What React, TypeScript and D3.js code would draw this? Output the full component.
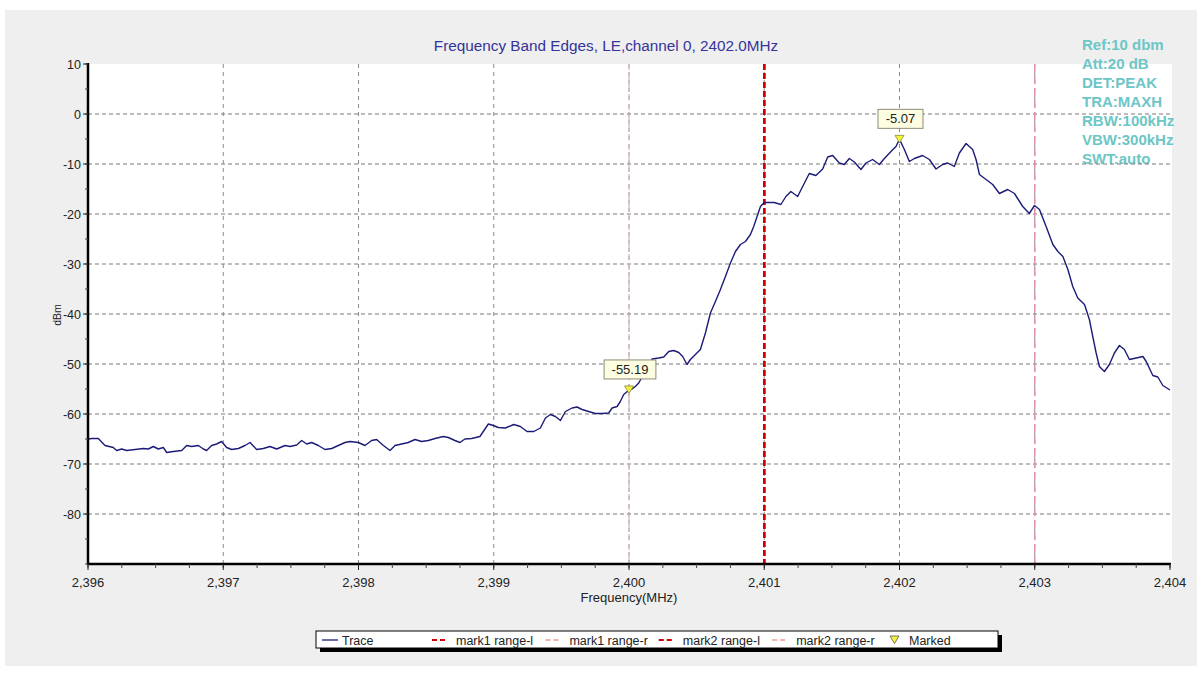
import React from 'react';
import * as d3 from 'd3';

const TITLE = 'Frequency Band Edges, LE,channel 0, 2402.0MHz';
const X_LABEL = 'Frequency(MHz)';
const Y_LABEL = 'dBm';

const FREQS = [
  2396.000, 2396.030, 2396.076, 2396.126, 2396.187, 2396.212, 2396.249, 2396.286, 2396.348, 2396.409,
  2396.446, 2396.483, 2396.520, 2396.557, 2396.582, 2396.631, 2396.693, 2396.730, 2396.766, 2396.816,
  2396.853, 2396.877, 2396.914, 2396.951, 2396.988, 2397.025, 2397.062, 2397.112, 2397.161, 2397.198,
  2397.247, 2397.296, 2397.346, 2397.395, 2397.457, 2397.494, 2397.543, 2397.580, 2397.617, 2397.654,
  2397.703, 2397.752, 2397.802, 2397.851, 2397.900, 2397.937, 2397.999, 2398.048, 2398.097, 2398.134,
  2398.184, 2398.233, 2398.270, 2398.319, 2398.368, 2398.418, 2398.467, 2398.516, 2398.566, 2398.627,
  2398.664, 2398.713, 2398.750, 2398.787, 2398.837, 2398.898, 2398.935, 2398.960, 2398.997, 2399.034,
  2399.086, 2399.148, 2399.197, 2399.246, 2399.296, 2399.345, 2399.382, 2399.419, 2399.456, 2399.493,
  2399.530, 2399.579, 2399.616, 2399.653, 2399.702, 2399.751, 2399.801, 2399.850, 2399.875, 2399.912,
  2399.936, 2399.961, 2400.000, 2400.023, 2400.047, 2400.072, 2400.096, 2400.133, 2400.170, 2400.220,
  2400.257, 2400.294, 2400.331, 2400.368, 2400.397, 2400.429, 2400.454, 2400.491, 2400.528, 2400.565,
  2400.602, 2400.639, 2400.676, 2400.713, 2400.750, 2400.787, 2400.824, 2400.861, 2400.898, 2400.922,
  2400.947, 2400.972, 2401.000, 2401.074, 2401.123, 2401.160, 2401.197, 2401.247, 2401.284, 2401.333,
  2401.382, 2401.432, 2401.469, 2401.506, 2401.555, 2401.592, 2401.629, 2401.666, 2401.715, 2401.752,
  2401.801, 2401.851, 2401.888, 2401.937, 2401.974, 2402.000, 2402.036, 2402.073, 2402.110, 2402.171,
  2402.221, 2402.270, 2402.319, 2402.356, 2402.405, 2402.443, 2402.492, 2402.541, 2402.566, 2402.591,
  2402.640, 2402.689, 2402.739, 2402.800, 2402.850, 2402.911, 2402.960, 2402.998, 2403.035, 2403.084,
  2403.134, 2403.171, 2403.208, 2403.245, 2403.281, 2403.318, 2403.368, 2403.404, 2403.429, 2403.454,
  2403.478, 2403.515, 2403.552, 2403.589, 2403.626, 2403.663, 2403.700, 2403.750, 2403.800, 2403.824,
  2403.873, 2403.910, 2403.947, 2404.000,
];

const LEVELS = [
  -65.0, -64.9, -64.9, -66.3, -66.7, -67.3, -67.0, -67.3, -67.1, -66.9,
  -67.0, -66.5, -67.0, -66.7, -67.7, -67.5, -67.3, -66.3, -66.5, -66.3,
  -67.0, -67.3, -66.3, -66.0, -65.5, -66.7, -67.1, -66.9, -66.3, -65.7,
  -67.1, -66.9, -66.5, -67.0, -66.3, -66.5, -66.2, -65.3, -66.0, -65.7,
  -66.3, -67.1, -66.9, -66.3, -65.7, -65.5, -65.7, -66.3, -65.3, -65.1,
  -66.3, -67.3, -66.3, -66.0, -65.7, -65.1, -65.5, -65.3, -64.9, -64.5,
  -64.7, -65.3, -65.7, -65.0, -64.9, -64.5, -63.0, -62.0, -62.3, -62.7,
  -62.8, -62.1, -62.5, -63.5, -63.5, -62.8, -60.8, -60.1, -60.5, -61.3,
  -59.5, -58.8, -58.6, -59.1, -59.5, -59.9, -59.9, -59.8, -58.8, -58.5,
  -57.5, -56.1, -55.19, -55.0, -54.5, -53.8, -52.6, -50.8, -49.0, -48.8,
  -48.6, -47.5, -47.3, -47.7, -48.5, -50.1, -49.1, -48.1, -47.1, -43.8,
  -39.8, -37.5, -35.1, -32.5, -29.8, -27.5, -26.1, -25.5, -24.1, -22.5,
  -20.5, -18.5, -17.7, -17.7, -18.1, -16.5, -15.5, -16.5, -14.5, -11.9,
  -12.3, -11.0, -8.6, -8.3, -9.8, -10.1, -8.9, -9.6, -11.1, -9.8,
  -9.1, -10.1, -8.9, -7.5, -6.5, -5.07, -7.1, -9.5, -8.9, -8.3,
  -9.1, -11.0, -10.1, -9.8, -10.5, -7.8, -5.9, -7.1, -9.1, -12.1,
  -13.1, -14.1, -15.9, -15.1, -15.9, -18.5, -19.9, -18.3, -19.1, -22.5,
  -26.1, -27.5, -28.5, -31.1, -34.5, -36.8, -38.1, -41.1, -44.5, -47.8,
  -50.5, -51.5, -50.1, -47.8, -46.3, -47.1, -49.1, -48.8, -48.5, -49.5,
  -52.3, -52.6, -54.3, -55.2,
];

const X_TICKS = [2396, 2397, 2398, 2399, 2400, 2401, 2402, 2403, 2404];
const Y_TICKS = [10, 0, -10, -20, -30, -40, -50, -60, -70, -80];

const MARKED_FREQS = [2400, 2402];
const MARKED_LEVELS = [-55.19, -5.07];
const MARKED_LABELS = ['-55.19', '-5.07'];

const MARK_LINE_NAMES = ['mark1 range-l', 'mark1 range-r', 'mark2 range-l', 'mark2 range-r'];
const MARK_LINE_FREQS = [2401, 2400, 2401, 2403];

const INFO_LINES = ['Ref:10 dbm', 'Att:20 dB', 'DET:PEAK', 'TRA:MAXH', 'RBW:100kHz', 'VBW:300kHz', 'SWT:auto'];

const LEGEND_NAMES = ['Trace', 'mark1 range-l', 'mark1 range-r', 'mark2 range-l', 'mark2 range-r', 'Marked'];

// styles
const FONT = '"Liberation Sans", Arial, sans-serif';
const TRACE_COLOR = '#1c1c78';
const MARK_STYLE: Record<string, { color: string; width: number; dash: string }> = {
  'mark1 range-l': { color: '#d10000', width: 2.5, dash: '6,3' },
  'mark1 range-r': { color: '#dcb8b2', width: 1.3, dash: '6,4' },
  'mark2 range-l': { color: '#d10000', width: 2.5, dash: '6,3' },
  'mark2 range-r': { color: '#d896aa', width: 1.5, dash: '8,4' },
};
const LEGEND_MARK_COLOR: Record<string, string> = {
  'mark1 range-l': '#d10000',
  'mark1 range-r': '#f0b4b4',
  'mark2 range-l': '#d10000',
  'mark2 range-r': '#f0b4b4',
};

export default function App() {
  const W = 1202;
  const H = 675;
  const x = d3.scaleLinear().domain([2396, 2404]).range([88, 1170]);
  const y = d3.scaleLinear().domain([-90, 10]).range([564, 64]);
  const fmt = d3.format(',');

  const points: [number, number][] = FREQS.map((f, i) => [f, LEVELS[i]]);
  const line = d3
    .line<[number, number]>()
    .x((d) => x(d[0]))
    .y((d) => y(d[1]));

  const xMinor = d3.range(0, 33).map((i) => 2396 + i * 0.25);
  const yMinor = d3.range(0, 21).map((i) => -90 + i * 5);

  const legendX0 = 316;
  const legendY0 = 631;
  const legendW = 682;
  const legendH = 17;
  const legendItemX = (i: number) => (i === 0 ? 322 : i === 5 ? 889 : 432 + (i - 1) * 113.4);

  return (
    <svg
      width={W}
      height={H}
      style={{ position: 'absolute', left: 0, top: 0, display: 'block' }}
      fontFamily={FONT}
    >
      <rect x={0} y={0} width={W} height={H} fill="#ffffff" />
      <rect x={5} y={10} width={1192} height={656} fill="#efefef" />
      <rect x={88} y={64} width={1084} height={500} fill="#ffffff" />

      {/* title */}
      <text x={606} y={51} textAnchor="middle" fontSize={15.3} fill="#34349a">
        {TITLE}
      </text>

      {/* info text */}
      {INFO_LINES.map((t, i) => (
        <text key={t} x={1082} y={50 + i * 19} fontSize={15} fontWeight="bold" fill="#6cc6c6">
          {t}
        </text>
      ))}

      {/* grid */}
      {Y_TICKS.filter((v) => v < 10).map((v) => (
        <line key={'gy' + v} x1={88} x2={1170} y1={y(v)} y2={y(v)} stroke="#7a7a7a" strokeWidth={1} strokeDasharray="4,3" />
      ))}
      {X_TICKS.filter((f) => f > 2396 && f < 2404).map((f) => (
        <line key={'gx' + f} x1={x(f)} x2={x(f)} y1={64} y2={564} stroke="#8a8a8a" strokeWidth={1} strokeDasharray="4,4" />
      ))}

      {/* marker range lines */}
      {MARK_LINE_NAMES.map((n, i) => {
        const s = MARK_STYLE[n];
        return (
          <line
            key={n}
            x1={x(MARK_LINE_FREQS[i])}
            x2={x(MARK_LINE_FREQS[i])}
            y1={64}
            y2={564}
            stroke={s.color}
            strokeWidth={s.width}
            strokeDasharray={s.dash}
          />
        );
      })}

      {/* trace */}
      <path d={line(points) || ''} fill="none" stroke={TRACE_COLOR} strokeWidth={1.4} strokeLinejoin="round" />

      {/* axes */}
      <line x1={88} x2={88} y1={63} y2={565} stroke="#000" strokeWidth={2.5} />
      <line x1={87} x2={1171} y1={564} y2={564} stroke="#000" strokeWidth={2.5} />
      {yMinor.map((v) => (
        <line key={'ym' + v} x1={85} x2={88} y1={y(v)} y2={y(v)} stroke="#444" strokeWidth={1} />
      ))}
      {Y_TICKS.map((v) => (
        <g key={'yt' + v}>
          <line x1={83} x2={88} y1={y(v)} y2={y(v)} stroke="#222" strokeWidth={1} />
          <text x={81} y={y(v) + 4.5} textAnchor="end" fontSize={12.5} fill="#222">
            {v}
          </text>
        </g>
      ))}
      {xMinor.map((f) => (
        <line key={'xm' + f} x1={x(f)} x2={x(f)} y1={564} y2={568} stroke="#444" strokeWidth={1} />
      ))}
      {X_TICKS.map((f) => (
        <g key={'xt' + f}>
          <line x1={x(f)} x2={x(f)} y1={564} y2={570} stroke="#222" strokeWidth={1} />
          <text x={x(f)} y={587} textAnchor="middle" fontSize={13} fill="#222">
            {fmt(f)}
          </text>
        </g>
      ))}
      <text x={629} y={602} textAnchor="middle" fontSize={13} fill="#222">
        {X_LABEL}
      </text>
      <text transform={`translate(61,315) rotate(-90)`} textAnchor="middle" fontSize={10.5} fill="#222">
        {Y_LABEL}
      </text>

      {/* marked points */}
      {MARKED_FREQS.map((f, i) => {
        const px = x(f);
        const py = y(MARKED_LEVELS[i]);
        const label = MARKED_LABELS[i];
        const bw = label.length * 6.8 + 11;
        const bh = 19;
        return (
          <g key={'mk' + i}>
            <rect x={px - bw / 2 + 1} y={py - 11 - bh} width={bw} height={bh} fill="#fdfde2" stroke="#8c8c78" strokeWidth={1} />
            <text x={px + 1} y={py - 11 - bh / 2 + 4.5} textAnchor="middle" fontSize={13} fill="#222">
              {label}
            </text>
            <path
              d={`M${px - 4.5},${py - 4}L${px + 4.5},${py - 4}L${px},${py + 3.5}Z`}
              fill="#f4f23c"
              stroke="#8a8a40"
              strokeWidth={0.8}
            />
          </g>
        );
      })}

      {/* legend */}
      <rect x={legendX0 + 4} y={legendY0 + 4} width={legendW} height={legendH} fill="#000" />
      <rect x={legendX0} y={legendY0} width={legendW} height={legendH} fill="#fff" stroke="#000" strokeWidth={1} />
      {LEGEND_NAMES.map((n, i) => {
        const lx = legendItemX(i);
        const cy = legendY0 + legendH / 2 + 0.5;
        let symbol: React.ReactNode;
        let tx = lx + 24;
        if (n === 'Trace') {
          symbol = <line x1={lx} x2={lx + 16} y1={cy} y2={cy} stroke={TRACE_COLOR} strokeWidth={1.3} />;
          tx = lx + 20;
        } else if (n === 'Marked') {
          symbol = (
            <path
              d={`M${lx + 1},${cy - 4}L${lx + 10},${cy - 4}L${lx + 5.5},${cy + 3.5}Z`}
              fill="#f4f23c"
              stroke="#555"
              strokeWidth={0.8}
            />
          );
          tx = lx + 20;
        } else {
          symbol = (
            <line
              x1={lx}
              x2={lx + 16}
              y1={cy}
              y2={cy}
              stroke={LEGEND_MARK_COLOR[n]}
              strokeWidth={2}
              strokeDasharray="5,3"
            />
          );
        }
        return (
          <g key={'lg' + n}>
            {symbol}
            <text x={tx} y={cy + 4.5} fontSize={12.5} fill="#222">
              {n}
            </text>
          </g>
        );
      })}
    </svg>
  );
}
